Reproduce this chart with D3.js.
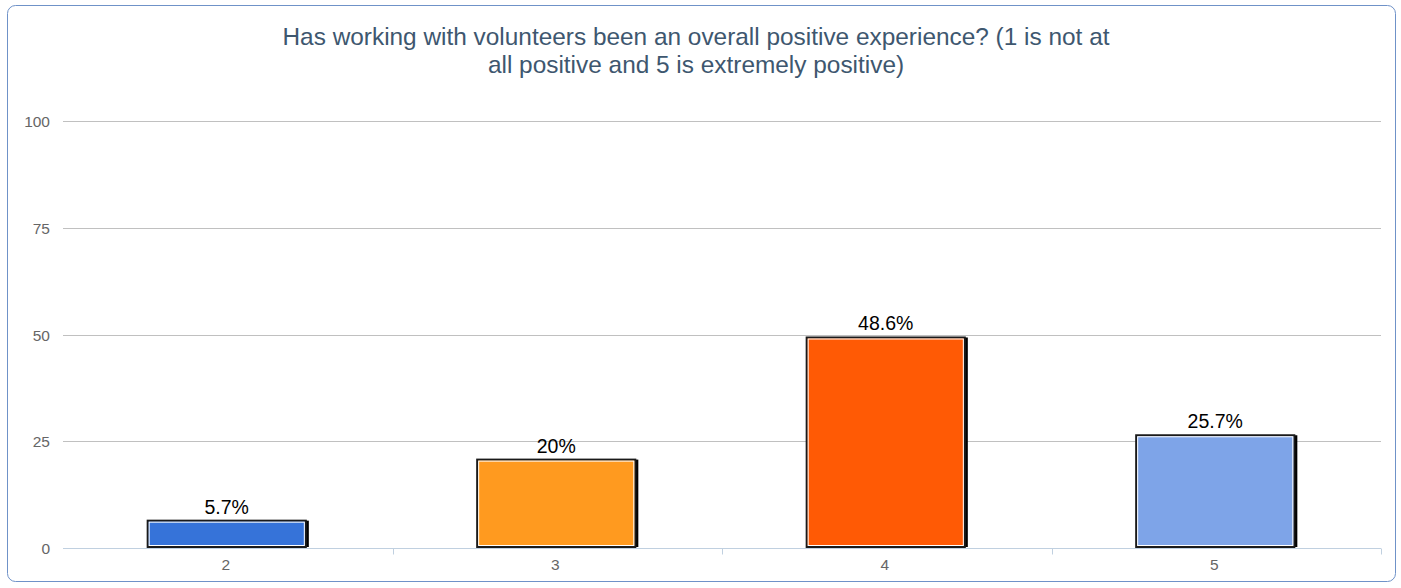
<!DOCTYPE html>
<html><head><meta charset="utf-8">
<script src="https://cdn.jsdelivr.net/npm/d3@7"></script>
<style>
html,body{margin:0;padding:0;background:#fff;}
svg{display:block;font-family:"Liberation Sans",Arial,sans-serif;}
</style></head><body>
<svg id="chart" width="1401" height="588"></svg>
<script>
const categories = ["2", "3", "4", "5"];
const values = [5.7, 20, 48.6, 25.7];
const valueLabels = ["5.7%", "20%", "48.6%", "25.7%"];
const colors = ["#3673d9", "#ff9a1f", "#ff5a05", "#7ea4e8"];
const yTicks = [0, 25, 50, 75, 100];
const titleLines = ["Has working with volunteers been an overall positive experience? (1 is not at", "all positive and 5 is extremely positive)"];

const svg = d3.select("#chart");
const m = {left: 63, top: 121};
const plotR = 1381, plotB = 548;

svg.append("rect").attr("x", 7.5).attr("y", 5.5).attr("width", 1388).attr("height", 576)
  .attr("rx", 8).attr("fill", "#fff").attr("stroke", "#6f92c8").attr("stroke-width", 1);

const x = d3.scaleBand().domain(categories).range([m.left, plotR]).paddingInner(0.52).paddingOuter(0.26);
const xb = d3.scaleBand().domain(categories).range([m.left, plotR]);
const y = d3.scaleLinear().domain([0, 100]).range([plotB, m.top]);

// gridlines
svg.append("g").selectAll("line").data(yTicks.filter(d => d > 0)).join("line")
  .attr("x1", m.left).attr("x2", plotR)
  .attr("y1", d => Math.round(y(d)) + 0.5).attr("y2", d => Math.round(y(d)) + 0.5)
  .attr("stroke", "#c0c0c0").attr("stroke-width", 1);

// y labels
svg.append("g").selectAll("text").data(yTicks).join("text")
  .attr("x", 50).attr("y", d => y(d) + 6).attr("text-anchor", "end")
  .attr("font-size", 15.5).attr("fill", "#666").text(d => d);

// x axis
const xAxisG = svg.append("g").attr("transform", `translate(0,${Math.round(plotB) + 0.5})`);
xAxisG.append("line").attr("x1", m.left).attr("x2", plotR).attr("stroke", "#c0d0e0");
xAxisG.selectAll("line.tick").data(categories).join("line").attr("class", "tick")
  .attr("x1", d => Math.round(xb(d) + xb.bandwidth()) + 0.5)
  .attr("x2", d => Math.round(xb(d) + xb.bandwidth()) + 0.5)
  .attr("y1", 0).attr("y2", 6).attr("stroke", "#c0d0e0");
xAxisG.selectAll("text").data(categories).join("text")
  .attr("x", d => xb(d) + xb.bandwidth() / 2 - 2).attr("y", 21)
  .attr("text-anchor", "middle").attr("font-size", 15.5).attr("fill", "#666").text(d => d);

// bars
const data = categories.map((c, i) => ({c, v: values[i], l: valueLabels[i], col: colors[i]}));
const bars = svg.append("g").selectAll("g").data(data).join("g");
bars.append("rect")
  .attr("x", d => x(d.c) + 2).attr("y", d => y(d.v) - 3)
  .attr("width", x.bandwidth()).attr("height", d => plotB - y(d.v) + 2)
  .attr("fill", "#000");
bars.append("rect")
  .attr("x", d => x(d.c) - 1).attr("y", d => y(d.v) - 3)
  .attr("width", x.bandwidth()).attr("height", d => plotB - y(d.v) + 2)
  .attr("fill", d => d.col).attr("stroke", "#1a1a1a").attr("stroke-width", 2);
bars.append("rect")
  .attr("x", d => x(d.c) + 0.5).attr("y", d => y(d.v) - 1.5)
  .attr("width", x.bandwidth() - 3).attr("height", d => plotB - y(d.v) - 1)
  .attr("fill", "none").attr("stroke", "#fff").attr("stroke-width", 1);
bars.append("text")
  .attr("x", d => x(d.c) + x.bandwidth() / 2 - 1).attr("y", d => y(d.v) - 10)
  .attr("text-anchor", "middle").attr("font-size", 19.5).attr("fill", "#000").text(d => d.l);

// title
svg.append("g").selectAll("text").data(titleLines).join("text")
  .attr("x", 696).attr("y", (d, i) => 45 + i * 28).attr("text-anchor", "middle")
  .attr("font-size", 24.4).attr("fill", "#3e576f").text(d => d);
</script>
</body></html>
